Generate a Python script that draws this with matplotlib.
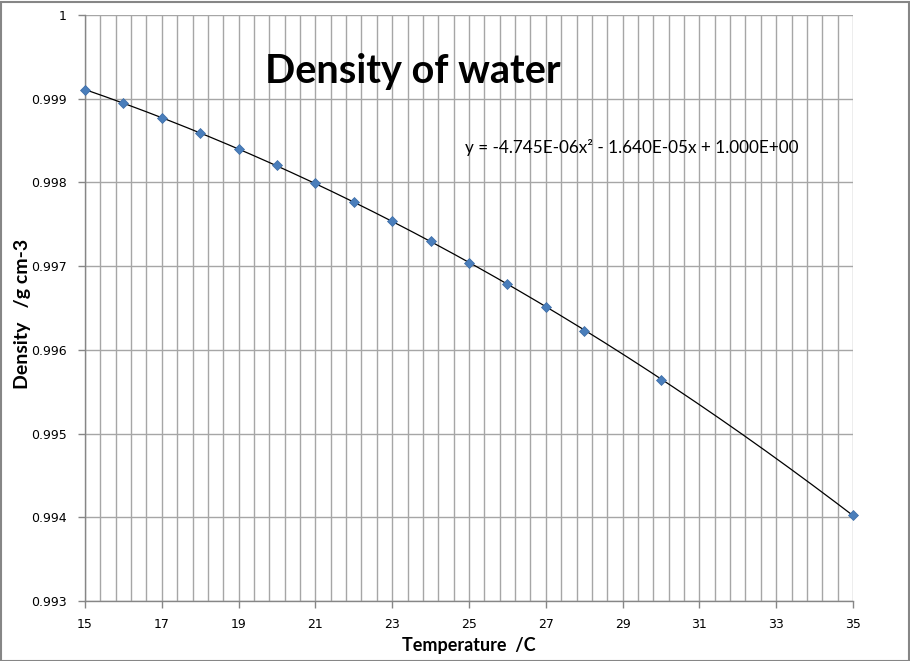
import numpy as np
import matplotlib
matplotlib.use("Agg")
import matplotlib.pyplot as plt
from matplotlib.patches import Rectangle

temperature = [15, 16, 17, 18, 19, 20, 21, 22, 23, 24, 25, 26, 27, 28, 30, 35]
density = [0.999099, 0.998943, 0.998774, 0.998595, 0.998404, 0.998203,
           0.997991, 0.997769, 0.997537, 0.997295, 0.997043, 0.996782,
           0.996511, 0.996231, 0.995645, 0.994029]
x_ticks = [15, 17, 19, 21, 23, 25, 27, 29, 31, 33, 35]
y_ticks = [0.993, 0.994, 0.995, 0.996, 0.997, 0.998, 0.999, 1.0]
y_tick_labels = ["0.993", "0.994", "0.995", "0.996", "0.997", "0.998", "0.999", "1"]
title = "Density of water"
equation = "y = -4.745E-06x\u00b2 - 1.640E-05x + 1.000E+00"

fig = plt.figure(figsize=(9.10, 6.61), dpi=100)
ax = fig.add_axes([85/910, 1-601/661, (853-85)/910, (601-15)/661])

grid_c = "#a6a6a6"
vlines = np.arange(15, 35.001, 0.4)
for v in vlines:
    ax.axvline(v, color=grid_c, lw=1.0, zorder=0)
for h in y_ticks:
    ax.axhline(h, color=grid_c, lw=1.0, zorder=0)

coef = np.polyfit(temperature, density, 2)
xs = np.linspace(15, 35, 300)
ax.plot(xs, np.polyval(coef, xs), color="black", lw=0.9, zorder=2)
ax.plot(temperature, density, linestyle="none", marker="D", markersize=5.5,
        color="#4a7ebb", markeredgecolor="#3a6aa5", markeredgewidth=0.5,
        zorder=3, clip_on=False)

ax.set_xlim(15, 35)
ax.set_ylim(0.993, 1.0)
ax.set_xticks(x_ticks)
ax.set_xticklabels([str(t) for t in x_ticks], fontsize=9, family="DejaVu Sans")
ax.set_yticks(y_ticks)
ax.set_yticklabels(y_tick_labels, fontsize=9, family="DejaVu Sans")
for s in ["top", "right"]:
    ax.spines[s].set_visible(False)
for s in ["left", "bottom"]:
    ax.spines[s].set_color("#868686")
    ax.spines[s].set_linewidth(1.0)
ax.tick_params(axis="both", colors="#868686", labelcolor="black", length=5, width=1.0)
ax.tick_params(axis="x", pad=7)
ax.tick_params(axis="y", pad=8)

ax.set_xlabel("Temperature  /C", fontsize=13, fontweight="bold", family="Lato")
ax.xaxis.set_label_coords(0.5, -(645-601)/586, transform=ax.transAxes)
ax.xaxis.label.set_va("center")
ax.set_ylabel("Density   /g cm-3", fontsize=14, fontweight="bold", family="Lato")
ax.yaxis.set_label_coords((23-85)/768, (601-314)/586, transform=ax.transAxes)
ax.yaxis.label.set_va("center")

fig.text(413/910, 1-72/661, title, fontsize=28.5, fontweight="bold", family="Lato",
         ha="center", va="center")
fig.text(465/910, 1-147/661, equation, fontsize=12.3, family="Lato",
         ha="left", va="center")

fig.patches.append(Rectangle((0.5/910, 0.5/661), 908/910, 659/661, transform=fig.transFigure,
                             fill=False, edgecolor="#868686", lw=1.5))

fig.savefig("out.png", dpi=100)
